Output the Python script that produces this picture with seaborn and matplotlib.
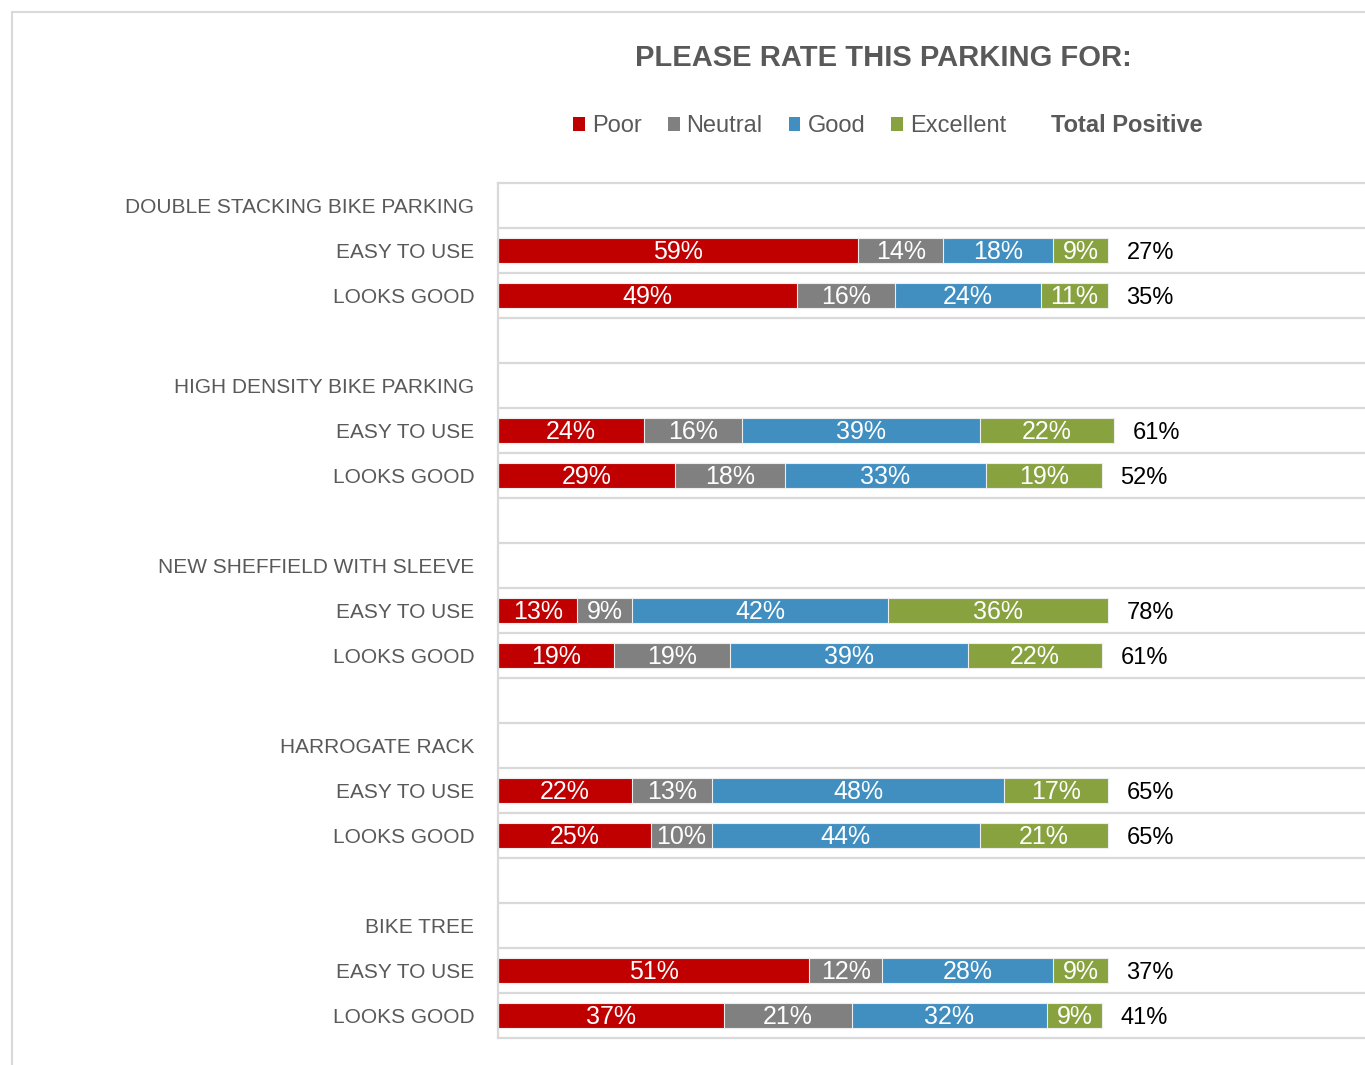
import matplotlib
matplotlib.use("Agg")
import matplotlib.pyplot as plt
from matplotlib.patches import Patch, Rectangle
import seaborn as sns
import numpy as np
import pandas as pd

# ---------------- data ----------------
groups = ["DOUBLE STACKING BIKE PARKING", "HIGH DENSITY BIKE PARKING",
          "NEW SHEFFIELD WITH SLEEVE", "HARROGATE RACK", "BIKE TREE"]
aspects = ["EASY TO USE", "LOOKS GOOD"]
poor = [59, 49, 24, 29, 13, 19, 22, 25, 51, 37]
neutral = [14, 16, 16, 18, 9, 19, 13, 10, 12, 21]
good = [18, 24, 39, 33, 42, 39, 48, 44, 28, 32]
excellent = [9, 11, 22, 19, 36, 22, 17, 21, 9, 9]
total_positive = [27, 35, 61, 52, 78, 61, 65, 65, 37, 41]
series_names = ["Poor", "Neutral", "Good", "Excellent"]
series_colors = ["#C00000", "#808080", "#418FC1", "#88A23F"]

# ---------------- style ----------------
sns.set_theme(style="white")
plt.rcParams['font.family'] = ['Liberation Sans', 'DejaVu Sans']
grey_txt = "#595959"
grid_col = "#D9D9D9"

# row layout: header, aspect rows, blank separator
pos, tick_pos, tick_txt = [], [], []
for g, name in enumerate(groups):
    base = g * 4
    tick_pos.append(base)
    tick_txt.append(name)
    for a, asp in enumerate(aspects):
        pos.append(base + 1 + a)
        tick_pos.append(base + 1 + a)
        tick_txt.append(asp)
n_rows = len(groups) * 4 - 1

vals = np.array([poor, neutral, good, excellent], dtype=float) / 100.0
cums = np.cumsum(vals, axis=0)
df = pd.DataFrame({"pos": pos})
for k in range(4):
    df[f"c{k}"] = cums[k]

fig = plt.figure(figsize=(13.65, 10.65), dpi=100)
ax = fig.add_axes([498 / 1365, 1 - 1038 / 1065, 1 - 498 / 1365, (1038 - 183) / 1065])

for k in [3, 2, 1, 0]:
    sns.barplot(data=df, x=f"c{k}", y="pos", orient="h", native_scale=True,
                color=series_colors[k], saturation=1, width=0.56,
                edgecolor="#EDEDED", linewidth=0.8, errorbar=None, ax=ax)

# segment labels (baseline aligned, shifted down by half the cap height)
seg_fs = 18
tot_fs = 17
for i, p in enumerate(pos):
    start = 0.0
    for k in range(4):
        v = vals[k, i]
        ax.annotate(f"{round(v * 100)}%", xy=(start + v / 2, p),
                    xytext=(0, -seg_fs * 0.716 / 2), textcoords="offset points",
                    ha="center", va="baseline", color="white", fontsize=seg_fs)
        start += v
    ax.annotate(f"{total_positive[i]}%", xy=(cums[3, i] + 0.03, p),
                xytext=(0, -tot_fs * 0.716 / 2), textcoords="offset points",
                ha="left", va="baseline", color="black", fontsize=tot_fs)

ax.set_xlim(0, 1.421)
ax.set_ylim(n_rows - 0.5, -0.5)
ax.set_xticks([])
ax.set_xlabel("")
ax.set_ylabel("")
ax.set_yticks(tick_pos)
ax.set_yticklabels(tick_txt, fontsize=15, color=grey_txt)
ax.set_yticks(np.arange(0.5, n_rows - 0.5, 1), minor=True)
ax.tick_params(axis="y", which="both", length=0, pad=17)
ax.grid(False)
ax.grid(which="minor", axis="y", color=grid_col, lw=1.6)
ax.set_axisbelow(True)
for s in ["top", "bottom", "left"]:
    ax.spines[s].set_color(grid_col)
    ax.spines[s].set_linewidth(1.6)
ax.spines["right"].set_visible(False)

# outer frame
fig.patches.append(Rectangle((12 / 1365, -0.1), 1.5, 1 - 12 / 1065 + 0.1,
                             transform=fig.transFigure, fill=False,
                             edgecolor=grid_col, lw=1.5))

fig.text(883 / 1365, 1 - 58 / 1065, "PLEASE RATE THIS PARKING FOR:", ha="center",
         va="center", fontsize=21, weight="bold", color=grey_txt)

handles = [Patch(facecolor=c, edgecolor="none") for c in series_colors] + \
          [Patch(facecolor="none", edgecolor="none")]
leg = fig.legend(handles, series_names + ["Total Positive"], loc="center",
                 bbox_to_anchor=(888 / 1365, 1 - 126 / 1065), ncol=5, frameon=False,
                 handlelength=0.5, handleheight=0.5, handletextpad=0.3,
                 columnspacing=1.1, prop={"size": 17})
for t in leg.get_texts():
    t.set_color(grey_txt)
leg.get_texts()[-1].set_fontweight("bold")

fig.savefig("out.png", dpi=100)
